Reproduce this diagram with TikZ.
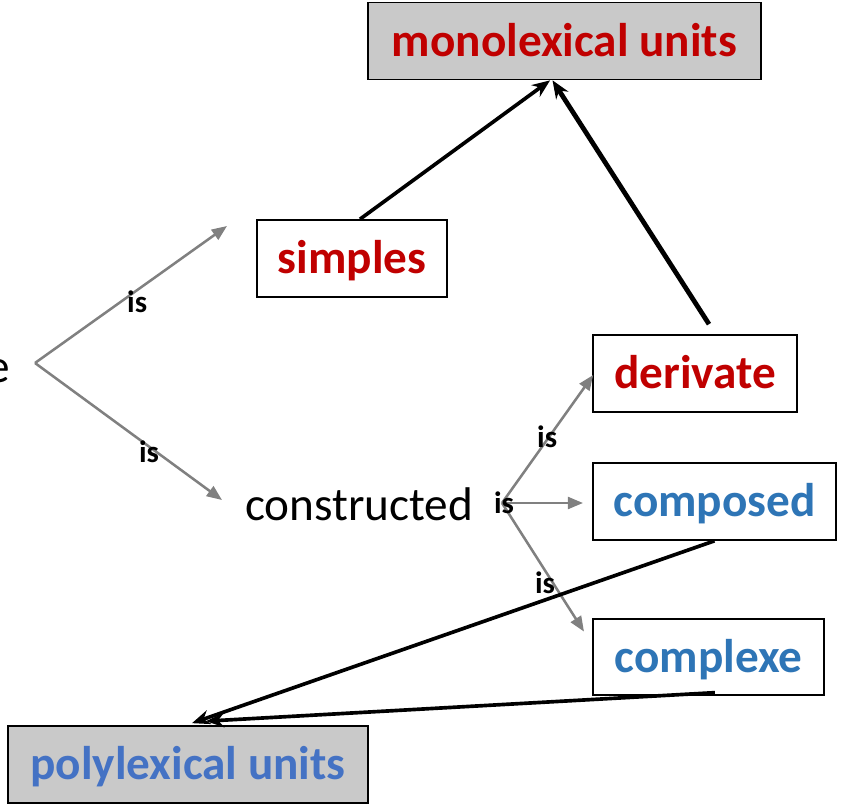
\documentclass[tikz,border=0pt]{standalone}
\usepackage{fontspec}
\setmainfont{Carlito}
\definecolor{lxred}{RGB}{192,0,0}
\definecolor{lxblue}{RGB}{46,117,182}
\definecolor{lxpoly}{RGB}{68,114,196}
\definecolor{lxgray}{RGB}{128,128,128}
\definecolor{lxfill}{RGB}{201,201,201}
\usetikzlibrary{arrows.meta,positioning,calc}

\begin{document}
\begin{tikzpicture}[
  ubox/.style={rectangle, draw=black, line width=1.2pt, fill=lxfill,
               minimum height=1.925cm, inner sep=0pt, text height=0.9cm, text depth=0.14cm,
               font=\fontsize{33.6}{36}\selectfont\bfseries},
  tbox/.style={rectangle, draw=black, line width=1.2pt, fill=white,
               minimum height=1.925cm, inner sep=0pt, text height=0.9cm, text depth=0.14cm,
               font=\fontsize{33.6}{36}\selectfont\bfseries},
  word/.style={inner sep=0pt, font=\fontsize{33.6}{36}\selectfont},
  lbl/.style={inner sep=0pt, font=\fontsize{22}{24}\selectfont\bfseries},
  isarr/.style={-{Triangle[length=0.38cm, width=0.3cm]}, draw=lxgray, line width=1.8pt},
  arr/.style={-{Stealth[length=0.45cm, width=0.36cm]}, line width=2.6pt}
]
\useasboundingbox (0,0) rectangle (21.15,-20.175);

% Unit boxes
\node[ubox, minimum width=9.825cm, text=lxred]  (mono) at (14.1125,-1.025)  {monolexical units};
\node[ubox, minimum width=9.0cm,   text=lxpoly] (poly) at (4.7,-19.1125)    {polylexical units};

% Type boxes
\node[tbox, minimum width=4.75cm,  text=lxred]  (simples)  at (8.8,-6.4625)     {simples};
\node[tbox, minimum width=5.1cm,   text=lxred]  (derivate) at (17.375,-9.3375)  {derivate};
\node[tbox, minimum width=6.075cm, text=lxblue] (composed) at (17.8625,-12.5375) {composed};
\node[tbox, minimum width=5.775cm, minimum height=1.9cm, text=lxblue] (complexe) at (17.7125,-16.425) {complexe};

% Plain words
\node[word, anchor=base east] (unit) at (0.25,-9.55) {e};
\node[word, anchor=base west] (constr) at (6.125,-13.0) {constructed};

% Fork points and free ends
\coordinate (forkA) at (0.875,-9.075);
\coordinate (forkB) at (12.55,-12.575);
\coordinate (toS)   at (5.675,-5.65);
\coordinate (toC)   at (5.55,-12.5);
\coordinate (toD)   at (14.83,-9.375);
\coordinate (toP)   at (14.575,-12.575);
\coordinate (toX)   at (14.6,-15.79);

% Gray "is" arrows
\draw[isarr] (forkA) -- (toS);
\draw[isarr] (forkA) -- (toC);
\draw[isarr] (forkB) -- (toD);
\draw[isarr] (forkB) -- (toP);
\draw[isarr] (forkB) -- (toX);

\node[lbl] (is1) at (3.43,-7.54)   {is};
\node[lbl] (is2) at (3.725,-11.29) {is};
\node[lbl] (is3) at (13.68,-10.92) {is};
\node[lbl] (is4) at (12.6,-12.58)  {is};
\node[lbl] (is5) at (13.625,-14.58) {is};

% Black arrows
\draw[arr] ([xshift=0.2cm]simples.north) -- ([xshift=-0.36cm]mono.south);
\draw[arr, line width=3.4pt] ([shift={(0.35,0.25)}]derivate.north) -- ([xshift=-0.3cm]mono.south);
\draw[arr] (composed.south) -- ([shift={(0.1,0.05)}]poly.north);
\draw[arr] ([shift={(0.16,0.08)}]complexe.south) -- ([shift={(0.45,0.1)}]poly.north);
\end{tikzpicture}
\end{document}
